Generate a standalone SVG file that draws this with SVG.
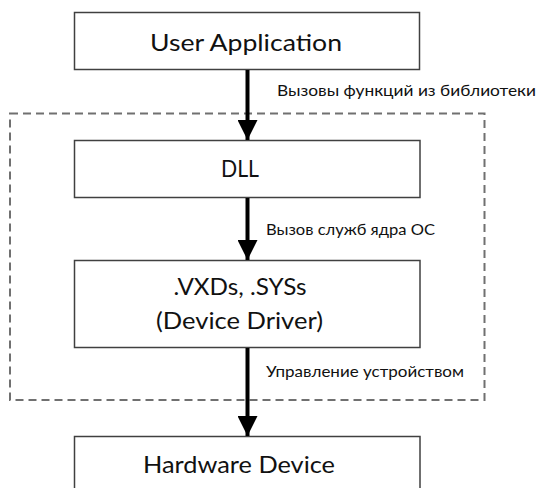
<svg xmlns="http://www.w3.org/2000/svg" width="539" height="488" viewBox="0 0 539 488">
<style>
.box{fill:#fff;stroke:#404040;stroke-width:1.5}
.t{font-family:Lato,"Open Sans","Liberation Sans",sans-serif;font-size:24px;fill:#111;text-anchor:middle}
.l{font-family:Lato,"Open Sans","Liberation Sans",sans-serif;font-size:15px;fill:#111}
.c{stroke:#000;stroke-width:4;fill:none}
</style>
<defs>
<marker id="ah" markerUnits="userSpaceOnUse" markerWidth="20" markerHeight="20" refX="20" refY="10" orient="auto">
<path d="M0,0 L20,10 L0,20 Z" fill="#000"/>
</marker>
</defs>
<rect x="0" y="0" width="539" height="488" fill="#fff"/>
<g id="kernel-boundary">
<rect x="10" y="113.5" width="474.5" height="286.5" fill="none" stroke="#707070" stroke-width="2" stroke-dasharray="8,5"/>
</g>
<g id="user-app">
<rect class="box" x="74.5" y="12.5" width="345" height="57"/>
<text class="t" x="246" y="51" textLength="192" lengthAdjust="spacingAndGlyphs">User Application</text>
</g>
<g id="dll">
<rect class="box" x="74.5" y="140.5" width="345.5" height="57"/>
<text class="t" x="240" y="177" textLength="38" lengthAdjust="spacingAndGlyphs">DLL</text>
</g>
<g id="driver">
<rect class="box" x="74.5" y="260.5" width="345.5" height="87"/>
<text class="t" x="240" y="295" textLength="133" lengthAdjust="spacingAndGlyphs">.VXDs, .SYSs</text>
<text class="t" x="239.5" y="329" textLength="167" lengthAdjust="spacingAndGlyphs">(Device Driver)</text>
</g>
<g id="hardware">
<rect class="box" x="74.5" y="436.5" width="345.5" height="60"/>
<text class="t" x="239" y="473" textLength="192" lengthAdjust="spacingAndGlyphs">Hardware Device</text>
</g>
<g id="connectors">
<line class="c" x1="247.5" y1="70" x2="247.5" y2="140" marker-end="url(#ah)"/>
<line class="c" x1="247.5" y1="198" x2="247.5" y2="260" marker-end="url(#ah)"/>
<line class="c" x1="247.5" y1="348" x2="247.5" y2="436" marker-end="url(#ah)"/>
<text class="l" x="277" y="96" textLength="259" lengthAdjust="spacingAndGlyphs">Вызовы функций из библиотеки</text>
<text class="l" x="266" y="235" textLength="169" lengthAdjust="spacingAndGlyphs">Вызов служб ядра ОС</text>
<text class="l" x="266" y="377" textLength="198" lengthAdjust="spacingAndGlyphs">Управление устройством</text>
</g>
</svg>
